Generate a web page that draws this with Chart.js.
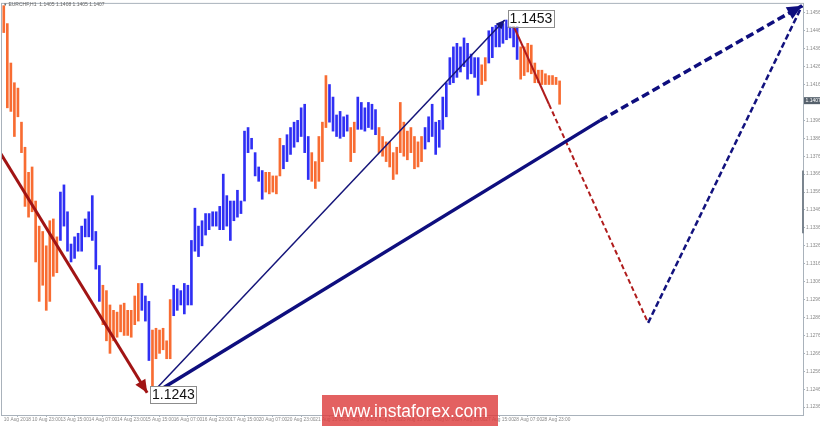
<!DOCTYPE html>
<html>
<head>
<meta charset="utf-8">
<script src="https://cdn.jsdelivr.net/npm/chart.js@4.4.0/dist/chart.umd.min.js"></script>
<style>
  html, body { margin: 0; padding: 0; background: #fff; }
</style>
</head>
<body>
<canvas id="wave-chart" width="820" height="426"></canvas>
<script>
// EURCHF H1 - one column per 2 hours (high / low)
const symbol = "EURCHF,H1";
const lastOhlc = [1.1405, 1.1408, 1.1405, 1.1407];
const hoursPerBar = 2;
const labelEvery = 16;

const highs = [
  1.1460, 1.1450, 1.1428, 1.1417, 1.1414, 1.1395, 1.1381, 1.1367, 1.1370, 1.1351,
  1.1337, 1.1334, 1.1326, 1.1340, 1.1341, 1.1331, 1.1356, 1.1360, 1.1345, 1.1327,
  1.1331, 1.1333, 1.1337, 1.1341, 1.1345, 1.1354, 1.1334, 1.1315, 1.1304, 1.1301,
  1.1293, 1.1290, 1.1289, 1.1293, 1.1294, 1.1290, 1.1290, 1.1298, 1.1305, 1.1305,
  1.1298, 1.1295, 1.1279, 1.1280, 1.1279, 1.1280, 1.1273, 1.1296, 1.1304, 1.1302,
  1.1301, 1.1305, 1.1304, 1.1329, 1.1347, 1.1337, 1.1340, 1.1344, 1.1344, 1.1345,
  1.1345, 1.1348, 1.1366, 1.1354, 1.1351, 1.1351, 1.1357, 1.1351, 1.1390, 1.1392,
  1.1386, 1.1378, 1.1370, 1.1368, 1.1367, 1.1367, 1.1365, 1.1365, 1.1386, 1.1382,
  1.1388, 1.1392, 1.1395, 1.1396, 1.1403, 1.1405, 1.1387, 1.1378, 1.1373, 1.1387,
  1.1395, 1.1421, 1.1416, 1.1409, 1.1399, 1.1401, 1.1398, 1.1399, 1.1392, 1.1395,
  1.1409, 1.1406, 1.1403, 1.1406, 1.1405, 1.1402, 1.1392, 1.1387, 1.1384, 1.1384,
  1.1378, 1.1381, 1.1406, 1.1395, 1.1390, 1.1392, 1.1387, 1.1384, 1.1387, 1.1392,
  1.1398, 1.1405, 1.1395, 1.1396, 1.1409, 1.1417, 1.1431, 1.1437, 1.1439, 1.1437,
  1.1442, 1.1439, 1.1433, 1.1431, 1.1431, 1.1427, 1.1431, 1.1446, 1.1448, 1.1449,
  1.1448, 1.1450, 1.1452, 1.1453, 1.1452, 1.1450, 1.1437, 1.1437, 1.1439, 1.1438,
  1.1428, 1.1424, 1.1424, 1.1422, 1.1421, 1.1421, 1.1420, 1.1418
];

const lows = [
  1.1445, 1.1403, 1.1401, 1.1387, 1.1398, 1.1378, 1.1348, 1.1342, 1.1345, 1.1317,
  1.1295, 1.1304, 1.1290, 1.1295, 1.1309, 1.1311, 1.1329, 1.1337, 1.1323, 1.1317,
  1.1319, 1.1323, 1.1323, 1.1331, 1.1331, 1.1329, 1.1313, 1.1295, 1.1282, 1.1273,
  1.1266, 1.1273, 1.1275, 1.1278, 1.1276, 1.1276, 1.1275, 1.1282, 1.1284, 1.1290,
  1.1284, 1.1262, 1.1243, 1.1263, 1.1266, 1.1268, 1.1263, 1.1263, 1.1287, 1.1290,
  1.1293, 1.1288, 1.1293, 1.1293, 1.1323, 1.1320, 1.1326, 1.1332, 1.1335, 1.1337,
  1.1337, 1.1335, 1.1335, 1.1337, 1.1329, 1.1340, 1.1342, 1.1344, 1.1351, 1.1378,
  1.1380, 1.1365, 1.1362, 1.1352, 1.1356, 1.1355, 1.1356, 1.1355, 1.1365, 1.1369,
  1.1373, 1.1377, 1.1381, 1.1384, 1.1387, 1.1378, 1.1363, 1.1362, 1.1358, 1.1362,
  1.1373, 1.1392, 1.1395, 1.1390, 1.1387, 1.1386, 1.1387, 1.1390, 1.1373, 1.1378,
  1.1391, 1.1391, 1.1390, 1.1392, 1.1391, 1.1388, 1.1378, 1.1376, 1.1373, 1.1370,
  1.1363, 1.1366, 1.1378, 1.1376, 1.1374, 1.1378, 1.1369, 1.1370, 1.1373, 1.1380,
  1.1384, 1.1387, 1.1377, 1.1381, 1.1391, 1.1398, 1.1416, 1.1417, 1.1420, 1.1423,
  1.1426, 1.1419, 1.1422, 1.1420, 1.1410, 1.1416, 1.1418, 1.1428, 1.1431, 1.1437,
  1.1437, 1.1439, 1.1441, 1.1442, 1.1437, 1.1430, 1.1419, 1.1421, 1.1423, 1.1422,
  1.1417, 1.1417, 1.1416, 1.1416, 1.1416, 1.1416, 1.1416, 1.1405
];

// colour runs of the bars: o = orange (down wave), b = blue (up wave)
const trendRuns = [
  ["o", 16], ["b", 12], ["o", 11], ["b", 3], ["o", 6], ["b", 26], ["o", 5], ["b", 8],
  ["o", 5], ["b", 6], ["o", 2], ["b", 6], ["o", 13], ["b", 16], ["o", 2], ["b", 9], ["o", 12]
];

const timeLabels = [
  "10 Aug 2018", "10 Aug 23:00", "13 Aug 15:00", "14 Aug 07:00", "14 Aug 23:00",
  "15 Aug 15:00", "16 Aug 07:00", "16 Aug 23:00", "17 Aug 15:00", "20 Aug 07:00",
  "20 Aug 23:00", "21 Aug 15:00", "22 Aug 07:00", "22 Aug 23:00", "23 Aug 15:00",
  "24 Aug 07:00", "24 Aug 23:00", "27 Aug 15:00", "28 Aug 07:00", "28 Aug 23:00"
];

const priceTicks = [
  1.1236, 1.1246, 1.1256, 1.1266, 1.1276, 1.1286, 1.1296, 1.1306, 1.1316, 1.1326, 1.1336, 1.1346,
  1.1356, 1.1366, 1.1376, 1.1386, 1.1396, 1.1406, 1.1416, 1.1426, 1.1436, 1.1446, 1.1456
];

// wave markup: [hour, price]
const waveLow = [84, 1.1243];
const waveTop = [286, 1.1453];
const redImpulse = [[-2, 1.1378], [81, 1.1244]];
const blueWave = [[84, 1.1244], [283, 1.1452]];
const blueTrend = [[84, 1.1243], [337, 1.1396]];
const blueTrendFwd = [[337, 1.1396], [451, 1.1460]];
const redDown = [[286, 1.1453], [308, 1.1405]];
const redDownFwd = [[308, 1.1405], [364, 1.1283]];
const blueUpFwd = [[364, 1.1283], [451, 1.1460]];

const ORANGE = "#f86c32";
const BLUE = "#2f2ff4";

let barColors = [];
trendRuns.forEach(r => {
  for (let i = 0; i < r[1]; i++) barColors.push(r[0] === "o" ? ORANGE : BLUE);
});

function markLine(points, color, width, dash, arrow) {
  return {
    type: "line",
    data: points.map(p => ({ x: p[0], y: p[1] })),
    borderColor: color,
    borderWidth: width,
    borderDash: dash || [],
    pointRadius: 0,
    fill: false,
    tension: 0,
    order: 0,
    arrow: arrow || 0
  };
}

const decor = {
  id: "decor",
  beforeDraw(chart) {
    const c = chart.ctx;
    c.save();
    c.fillStyle = "#fff";
    c.fillRect(0, 0, chart.width, chart.height);
    c.restore();
  },
  afterDatasetsDraw(chart) {
    const c = chart.ctx;
    const xs = chart.scales.x, ys = chart.scales.y;
    c.save();
    // arrow heads
    chart.data.datasets.forEach((ds, i) => {
      if (!ds.arrow) return;
      const pts = chart.getDatasetMeta(i).data;
      const a = pts[pts.length - 2], b = pts[pts.length - 1];
      const ang = Math.atan2(b.y - a.y, b.x - a.x);
      const L = ds.arrow, W = ds.arrow * 0.45;
      c.fillStyle = ds.borderColor;
      c.beginPath();
      c.moveTo(b.x, b.y);
      c.lineTo(b.x - L * Math.cos(ang) + W * Math.sin(ang), b.y - L * Math.sin(ang) - W * Math.cos(ang));
      c.lineTo(b.x - L * Math.cos(ang) - W * Math.sin(ang), b.y - L * Math.sin(ang) + W * Math.cos(ang));
      c.closePath();
      c.fill();
    });
    // price boxes on the extremes
    c.font = "14px 'Liberation Sans'";
    c.textBaseline = "middle";
    [waveTop, waveLow].forEach(p => {
      const x = xs.getPixelForValue(p[0]) - 2.5;
      const y = ys.getPixelForValue(p[1]);
      const txt = p[1].toFixed(4);
      const w = c.measureText(txt).width + 3;
      c.fillStyle = "#fff";
      c.fillRect(x, y - 8.5, w, 17);
      c.strokeStyle = "#8c8c8c";
      c.lineWidth = 1;
      c.strokeRect(Math.round(x) + 0.5, Math.round(y - 8.5) + 0.5, Math.round(w), 17);
      c.fillStyle = "#111";
      c.fillText(txt, x + 2, y + 1);
    });
    c.restore();
  },
  afterDraw(chart) {
    const c = chart.ctx;
    const a = chart.chartArea;
    const ys = chart.scales.y;
    c.save();
    c.strokeStyle = "#a9b2bb";
    c.lineWidth = 1;
    c.strokeRect(a.left - 0.5, a.top - 0.5, a.right - a.left + 1, a.bottom - a.top + 1);

    // darker stretch on the right border
    c.fillStyle = "#7b858f";
    const y1 = ys.getPixelForValue(1.1368), y2 = ys.getPixelForValue(1.1333);
    c.fillRect(a.right - 1, y1, 2, y2 - y1);

    // header
    c.fillStyle = "#666";
    c.font = "5px 'Liberation Sans'";
    c.textBaseline = "middle";
    c.fillText("\u25BE " + symbol + "  " + lastOhlc.map(v => v.toFixed(4)).join(" "), a.left + 2, 5);

    // current price tag
    const cy = ys.getPixelForValue(lastOhlc[3]);
    c.fillStyle = "#56616c";
    c.fillRect(a.right + 1, cy - 3.5, 16, 7);
    c.fillStyle = "#fff";
    c.fillText(lastOhlc[3].toFixed(4), a.right + 2.5, cy + 0.3);

    // watermark
    c.fillStyle = "rgba(221, 62, 62, 0.82)";
    c.fillRect(322, 395, 176, 31);
    c.fillStyle = "#fff";
    c.font = "17.5px 'Liberation Sans'";
    c.textAlign = "center";
    c.textBaseline = "alphabetic";
    c.fillText("www.instaforex.com", 410, 417);
    c.restore();
  }
};

new Chart(document.getElementById("wave-chart"), {
  type: "bar",
  data: {
    datasets: [
      markLine(redImpulse, "#a11414", 3, null, 13),
      markLine(blueWave, "#15157a", 1.5, null, 9),
      markLine(blueTrend, "#0e0e7e", 3.5),
      markLine(blueTrendFwd, "#0e0e7e", 3.5, [8, 4], 15),
      markLine(redDown, "#b01c1c", 2),
      markLine(redDownFwd, "#b01c1c", 2, [5, 3]),
      markLine(blueUpFwd, "#12127e", 2.5, [6, 3]),
      {
        type: "bar",
        data: highs.map((h, k) => ({ x: k * hoursPerBar, y: [lows[k], h] })),
        backgroundColor: barColors,
        borderWidth: 0,
        barThickness: 2,
        grouped: false,
        order: 5
      }
    ]
  },
  options: {
    responsive: false,
    animation: false,
    events: [],
    devicePixelRatio: 1,
    layout: { padding: { left: 2, top: 1, right: 0, bottom: 0 } },
    plugins: { legend: { display: false }, tooltip: { enabled: false } },
    scales: {
      x: {
        type: "linear",
        offset: false,
        min: -1,
        max: 451.5,
        afterBuildTicks: s => { s.ticks = timeLabels.map((t, i) => ({ value: i * labelEvery })); },
        afterFit: s => { s.height = 11; },
        ticks: {
          callback: (v, i) => timeLabels[i],
          align: "start",
          maxRotation: 0,
          autoSkip: false,
          padding: 0,
          color: "#8a8a8a",
          font: { size: 4.8, family: "Liberation Sans" }
        },
        grid: { drawOnChartArea: false, tickLength: 2, color: "#a9b2bb" },
        border: { color: "#a9b2bb" }
      },
      y: {
        position: "right",
        min: 1.12316,
        max: 1.14610,
        afterBuildTicks: s => { s.ticks = priceTicks.map(v => ({ value: v })); },
        afterFit: s => { s.width = 17; },
        ticks: {
          callback: v => v.toFixed(4),
          autoSkip: false,
          padding: 1,
          color: "#8a8a8a",
          font: { size: 4.8, family: "Liberation Sans" }
        },
        grid: { drawOnChartArea: false, tickLength: 2, color: "#a9b2bb" },
        border: { color: "#a9b2bb" }
      }
    }
  },
  plugins: [decor]
});
</script>
</body>
</html>
